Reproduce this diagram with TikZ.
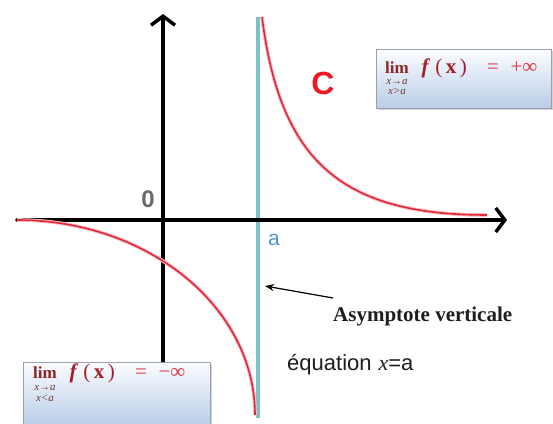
\documentclass[tikz,border=0pt]{standalone}
\usepackage{fontspec}
\setmainfont{Liberation Serif}
\newfontfamily\arialf{Liberation Sans}
\usetikzlibrary{arrows.meta,shadows}
\definecolor{asyc}{RGB}{125,195,198}
\definecolor{curvec}{RGB}{225,40,55}
\definecolor{glowc}{RGB}{250,190,200}
\definecolor{zeroc}{RGB}{105,105,105}
\definecolor{cred}{RGB}{235,25,35}
\definecolor{ablue}{RGB}{80,150,215}
\definecolor{limred}{RGB}{145,35,35}
\definecolor{fred}{RGB}{165,30,40}
\definecolor{eqred}{RGB}{215,60,70}
\definecolor{subc}{RGB}{110,55,45}
\definecolor{boxtopc}{RGB}{252,253,255}
\definecolor{boxbotc}{RGB}{185,205,232}
\definecolor{boxborder}{RGB}{150,160,175}
\definecolor{txtc}{RGB}{30,30,30}
\newcommand{\myfs}[1]{\fontsize{#1}{#1}\selectfont}
\begin{document}
\begin{tikzpicture}[x=1pt,y=-1pt,
  axisline/.style={line width=3.5pt, line cap=round, -{Straight Barb[length=9pt,width=24pt]}},
  asyline/.style={line width=4.5pt, asyc},
  curveglow/.style={line width=3.6pt, glowc},
  curveline/.style={line width=1.6pt, curvec},
  limbox/.style={draw=boxborder, line width=0.8pt, top color=boxtopc, bottom color=boxbotc,
     drop shadow={shadow xshift=2pt,shadow yshift=-2pt,opacity=0.35}, inner sep=0pt, anchor=north west},
  limtxt/.style={anchor=base, inner sep=0pt, limred, font=\myfs{17}\bfseries},
  subtxt/.style={anchor=base, inner sep=0pt, subc, font=\myfs{11}\itshape},
  ftxt/.style={anchor=base, inner sep=0pt, fred, font=\myfs{21}},
  eqtxt/.style={anchor=base, inner sep=0pt, eqred, font=\myfs{21}},
  plain/.style={inner sep=0pt}
]
\useasboundingbox[fill=white] (0,0) rectangle (553,423);

% asymptote
\coordinate (asytop) at (258,17);
\coordinate (asybot) at (258,418);
\draw[asyline] (asytop) -- (asybot);

% axes
\coordinate (xl) at (17,220);
\coordinate (xr) at (507,220);
\coordinate (yb) at (163,362);
\coordinate (yt) at (163,14);
\draw[axisline] (xl) -- (xr);
\draw[axisline] (yb) -- (yt);

% curves
\draw[curveglow] (262,17) .. controls (280,160) and (340,215) .. (487,215);
\draw[curveline] (262,17) .. controls (280,160) and (340,215) .. (487,215);
\draw[curveglow] (17,220) .. controls (148,220) and (255,307) .. (255,415);
\draw[curveline] (17,220) .. controls (148,220) and (255,307) .. (255,415);

% labels
\node[plain, zeroc, font=\arialf\myfs{24}\bfseries] (zero) at (148,199) {0};
\node[plain, cred, font=\arialf\myfs{32}\bfseries] (cname) at (323,83) {C};
\node[plain, ablue, font=\arialf\myfs{21}, anchor=base west] (alab) at (268,245) {a};
\node[plain, txtc, font=\myfs{21}\bfseries, anchor=base west] (asylab) at (333,321) {Asymptote verticale};
\node[plain, txtc, font=\myfs{22}, anchor=base west] (eqlab) at (287,370) {{\arialf équation}\hspace{7pt}{\itshape x}{\arialf =a}};

% arrow to asymptote
\coordinate (arrtail) at (333,298);
\coordinate (arrtip) at (265,286);
\draw[line width=1.2pt, -{Stealth[length=9pt,width=7pt]}] (arrtail) -- (arrtip);

% top box
\node[limbox, minimum width=175pt, minimum height=59pt] (boxa) at (376,49) {};
\node[limtxt] (lima) at (397,73) {lim};
\node[subtxt] (suba1) at (397,84) {x→a};
\node[subtxt] (suba2) at (397,94) {x>a};
\node[ftxt] (fa) at (425,73) {\bfseries\itshape f};
\node[ftxt] (xa) at (451,73) {(\,\textbf{x}\,)};
\node[eqtxt] (eqa) at (493,73) {=};
\node[eqtxt] (infa) at (524,73) {+∞};

% bottom box
\node[limbox, minimum width=187pt, minimum height=62pt] (boxb) at (23,362) {};
\node[limtxt] (limb) at (45,378) {lim};
\node[subtxt] (subb1) at (45,390) {x→a};
\node[subtxt] (subb2) at (45,401) {x<a};
\node[ftxt] (fb) at (73,378) {\bfseries\itshape f};
\node[ftxt] (xb) at (99,378) {(\,\textbf{x}\,)};
\node[eqtxt] (eqb) at (141,378) {=};
\node[eqtxt] (infb) at (172,378) {−∞};
\end{tikzpicture}
\end{document}
